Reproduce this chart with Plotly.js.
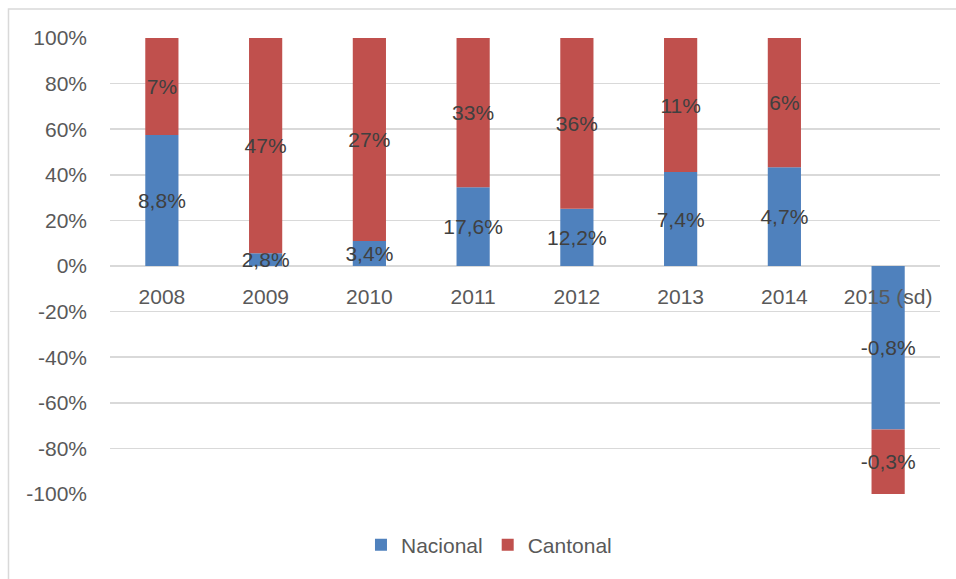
<!DOCTYPE html>
<html>
<head>
<meta charset="utf-8">
<script src="https://cdn.plot.ly/plotly-3.0.1.min.js"></script>
<style>
body { margin: 0; background: #fff; }
#graph { width: 956px; height: 579px; }
</style>
</head>
<body>
<div id="graph"></div>
<script>
/* categories on the x axis */
var years = ['2008', '2009', '2010', '2011', '2012', '2013', '2014', '2015 (sd)'];
/* share of each column (100% stacked) */
var nacionalShare = [57.5, 5.6, 11, 34.5, 25.1, 41.2, 43.3, -71.7];
var cantonalShare = [42.5, 94.4, 89, 65.5, 74.9, 58.8, 56.7, -28.3];
/* data labels as printed on the bars */
var nacionalLabels = ['8,8%', '2,8%', '3,4%', '17,6%', '12,2%', '7,4%', '4,7%', '-0,8%'];
var cantonalLabels = ['7%', '47%', '27%', '33%', '36%', '11%', '6%', '-0,3%'];
/* y axis ticks */
var yTickVals = [100, 80, 60, 40, 20, 0, -20, -40, -60, -80, -100];
var yTickLabels = ['100%', '80%', '60%', '40%', '20%', '0%', '-20%', '-40%', '-60%', '-80%', '-100%'];

var labelFont = { family: 'Liberation Sans, Arial, sans-serif', size: 21, color: '#404040' };

function drawGraph() {
    var nacional = {
        x: years,
        y: nacionalShare,
        text: nacionalLabels,
        type: 'bar',
        name: 'Nacional',
        marker: { color: '#4F81BD' },
        textposition: 'inside',
        insidetextanchor: 'middle',
        constraintext: 'none',
        textangle: 0,
        insidetextfont: labelFont,
        hoverinfo: 'skip'
    };
    var cantonal = {
        x: years,
        y: cantonalShare,
        text: cantonalLabels,
        type: 'bar',
        name: 'Cantonal',
        marker: { color: '#C0504D' },
        textposition: 'inside',
        insidetextanchor: 'middle',
        constraintext: 'none',
        textangle: 0,
        insidetextfont: labelFont,
        hoverinfo: 'skip'
    };
    var layout = {
        width: 956,
        height: 579,
        barmode: 'relative',
        bargap: 0.68,
        paper_bgcolor: '#fff',
        plot_bgcolor: '#fff',
        font: { family: 'Liberation Sans, Arial, sans-serif', size: 21, color: '#595959' },
        margin: { l: 110, r: 16, t: 38, b: 85 },
        showlegend: true,
        legend: {
            orientation: 'h',
            x: 0.4566, xanchor: 'center',
            y: -0.112, yanchor: 'middle',
            font: { size: 21, color: '#595959' },
            traceorder: 'normal'
        },
        xaxis: {
            type: 'category',
            anchor: 'free',
            position: 0.5,
            showline: false,
            showgrid: false,
            ticks: '',
            ticklabelstandoff: 16,
            tickfont: { size: 21, color: '#595959' }
        },
        yaxis: {
            range: [-100, 100],
            tickvals: yTickVals,
            ticktext: yTickLabels,
            showgrid: true,
            gridcolor: '#d9d9d9',
            gridwidth: 1.5,
            zeroline: false,
            showline: false,
            ticks: '',
            ticklabelstandoff: 22,
            tickfont: { size: 21, color: '#595959' }
        },
        shapes: [{
            type: 'rect', xref: 'paper', yref: 'paper',
            x0: -0.1223, x1: 1.04, y0: -0.3, y1: 1.0636,
            line: { color: '#d9d9d9', width: 1.5 },
            layer: 'below'
        }]
    };
    Plotly.newPlot('graph', [nacional, cantonal], layout, { displayModeBar: false, staticPlot: true });
}
drawGraph();
</script>
</body>
</html>
